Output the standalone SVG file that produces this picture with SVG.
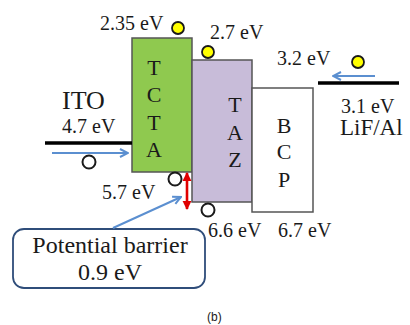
<svg xmlns="http://www.w3.org/2000/svg" width="410" height="325" viewBox="0 0 410 325">
<defs>
<style>
text{font-family:"Liberation Serif","Times New Roman",serif;fill:#1a1a1a}
.lbl{font-size:20px}
.big{font-size:23px}
.lt{font-size:22px;text-anchor:middle}
.layer{stroke:#555;stroke-width:1.5}
.e{fill:#ffff00;stroke:#1a1a1a;stroke-width:1.8}
.h{fill:#fff;stroke:#1a1a1a;stroke-width:2}
.blue{stroke:#5b8fd0;stroke-width:2;fill:none}
.elec{stroke:#000;stroke-width:3.5}
</style>
<marker id="ab" viewBox="0 0 10 10" refX="9" refY="5" markerWidth="5" markerHeight="5" orient="auto">
<path d="M1,1 L9,5 L1,9" fill="none" stroke="#5b8fd0" stroke-width="2"/>
</marker>
<marker id="ar" viewBox="0 0 10 10" refX="9" refY="5" markerWidth="3.5" markerHeight="3.5" orient="auto-start-reverse">
<path d="M0,0 L10,5 L0,10 z" fill="#e00000"/>
</marker>
</defs>
<rect width="410" height="325" fill="#fff"/>
<g id="tcta">
<rect class="layer" x="132" y="38" width="60" height="134" fill="#8fc94f"/>
<text class="lt" x="154" y="75">T</text>
<text class="lt" x="154" y="102">C</text>
<text class="lt" x="154" y="130">T</text>
<text class="lt" x="154" y="157">A</text>
</g>
<g id="taz">
<rect class="layer" x="192" y="60" width="60" height="142" fill="#c8bcd9"/>
<text class="lt" x="235" y="112">T</text>
<text class="lt" x="235" y="140">A</text>
<text class="lt" x="235" y="167">Z</text>
</g>
<g id="bcp">
<rect class="layer" x="252" y="88" width="61" height="124" fill="#fff"/>
<text class="lt" x="284" y="133">B</text>
<text class="lt" x="284" y="159">C</text>
<text class="lt" x="284" y="187">P</text>
</g>
<g id="ito">
<line class="elec" x1="45" y1="143" x2="132" y2="143"/>
<text x="62" y="109" style="font-size:26px">ITO</text>
<text class="lbl" x="62" y="133">4.7 eV</text>
</g>
<g id="lifal">
<line class="elec" x1="318" y1="83" x2="399" y2="83"/>
<text class="lbl" x="341" y="113">3.1 eV</text>
<text class="big" x="340" y="135">LiF/Al</text>
</g>
<g id="labels">
<text class="lbl" x="100" y="30">2.35 eV</text>
<text class="lbl" x="210" y="39">2.7 eV</text>
<text class="lbl" x="277" y="65">3.2 eV</text>
<text class="lbl" x="102" y="199">5.7 eV</text>
<text class="lbl" x="208" y="237">6.6 eV</text>
<text class="lbl" x="278" y="237">6.7 eV</text>
</g>
<g id="carriers">
<circle class="e" cx="178" cy="28" r="6"/>
<circle class="e" cx="208" cy="52" r="6"/>
<circle class="e" cx="358" cy="62" r="6"/>
<circle class="h" cx="89" cy="162" r="6.5"/>
<circle class="h" cx="175" cy="179" r="6.5"/>
<circle class="h" cx="208" cy="210" r="6.5"/>
</g>
<g id="callout">
<rect x="13" y="229" width="192" height="59" rx="11" fill="#fff" stroke="#2f4d7a" stroke-width="1.8"/>
<text x="110" y="253" text-anchor="middle" style="font-size:24px">Potential barrier</text>
<text x="110" y="280" text-anchor="middle" style="font-size:24px">0.9 eV</text>
</g>
<g id="connectors">
<line class="blue" x1="52" y1="153" x2="128" y2="153" marker-end="url(#ab)"/>
<line class="blue" x1="375" y1="76" x2="333" y2="76" marker-end="url(#ab)"/>
<line class="blue" x1="113" y1="228" x2="181" y2="197" marker-end="url(#ab)"/>
<line x1="187" y1="173" x2="187" y2="209" stroke="#e00000" stroke-width="2.6" marker-start="url(#ar)" marker-end="url(#ar)"/>
</g>
<text x="207" y="321" style="font-family:'Liberation Sans',Arial,sans-serif;font-size:12px">(b)</text>
</svg>
